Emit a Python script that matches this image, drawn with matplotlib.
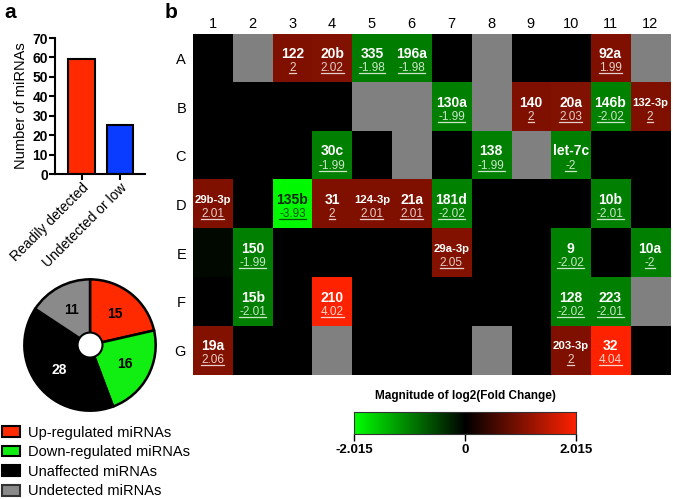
import matplotlib
matplotlib.use('Agg')
import matplotlib.pyplot as plt
import matplotlib.colors as mcolors
from matplotlib.patches import Patch
from matplotlib.lines import Line2D
import numpy as np

plt.rcParams['font.family'] = ['Liberation Sans', 'DejaVu Sans']

# panel a: bar chart
bar_labels = ['Readily detected', 'Undetected or low']
bar_values = [59, 25]
bar_colors = ['#ff2a00', '#0a3cff']

# panel a: pie chart
pie_labels = ['Up-regulated miRNAs', 'Down-regulated miRNAs',
              'Unaffected miRNAs', 'Undetected miRNAs']
pie_counts = [15, 16, 28, 11]
pie_colors = ['#ff2a00', '#11ee11', '#000000', '#8a8a8a']
pie_text_colors = ['black', 'black', 'white', 'black']

# panel b: heatmap (nan = undetected, 0 = unaffected)
nan = np.nan
row_labels = ['A', 'B', 'C', 'D', 'E', 'F', 'G']
col_labels = [str(i) for i in range(1, 13)]
mirna_names = [
    ['', '', '122', '20b', '335', '196a', '', '', '', '', '92a', ''],
    ['', '', '', '', '', '', '130a', '', '140', '20a', '146b', '132-3p'],
    ['', '', '', '30c', '', '', '', '138', '', 'let-7c', '', ''],
    ['29b-3p', '', '135b', '31', '124-3p', '21a', '181d', '', '', '', '10b', ''],
    ['', '150', '', '', '', '', '29a-3p', '', '', '9', '', '10a'],
    ['', '15b', '', '210', '', '', '', '', '', '128', '223', ''],
    ['19a', '', '', '', '', '', '', '', '', '203-3p', '32', ''],
]
fold_change = [
    [0, nan, 2, 2.02, -1.98, -1.98, 0, nan, 0, 0, 1.99, nan],
    [0, 0, 0, 0, nan, nan, -1.99, nan, 2, 2.03, -2.02, 2],
    [0, 0, 0, -1.99, 0, nan, 0, -1.99, nan, -2, 0, 0],
    [2.01, 0, -3.93, 2, 2.01, 2.01, -2.02, 0, 0, 0, -2.01, 0],
    [-0.15, -1.99, 0, 0, 0, 0, 2.05, 0, 0, -2.02, 0, -2],
    [0, -2.01, 0, 4.02, 0, 0, 0, 0, 0, -2.02, -2.01, nan],
    [2.06, 0, 0, nan, 0, 0, 0, nan, 0, 2, 4.04, 0],
]
cbar_limit = 2.015

cmap = mcolors.LinearSegmentedColormap.from_list('gkr', ['#00ff00', '#000000', '#ff2200'])
cmap.set_bad('#808080')

fig = plt.figure(figsize=(6.73, 4.99), dpi=100)

# ---------------- bar chart ----------------
ax_bar = fig.add_axes([0.0817, 0.6513, 0.1337, 0.2725])
xpos = np.arange(len(bar_values))
ax_bar.bar(xpos, bar_values, width=0.7, color=bar_colors, edgecolor='black', linewidth=1.5)
ax_bar.set_xlim(-0.69, 1.65)
ax_bar.set_ylim(0, 70)
ax_bar.set_yticks(range(0, 71, 10))
ax_bar.set_xticks(xpos)
ax_bar.set_xticklabels(bar_labels, rotation=45, ha='right', rotation_mode='anchor', fontsize=10)
for lab in ax_bar.get_yticklabels():
    lab.set_fontweight('bold')
    lab.set_fontsize(10)
ax_bar.set_ylabel('Number of miRNAs', fontsize=10.5, labelpad=3)
ax_bar.spines['top'].set_visible(False)
ax_bar.spines['right'].set_visible(False)
ax_bar.spines['left'].set_linewidth(1.5)
ax_bar.spines['bottom'].set_linewidth(1.5)
ax_bar.tick_params(width=1.5, length=4, pad=1)

# ---------------- pie chart ----------------
ax_pie = fig.add_axes([0.0342, 0.1743, 0.1991, 0.2685])
wedges, texts = ax_pie.pie(pie_counts, colors=pie_colors, startangle=90, counterclock=False,
                           labels=[str(c) for c in pie_counts], labeldistance=0.6,
                           wedgeprops=dict(edgecolor='black', linewidth=1.8))
for t, c in zip(texts, pie_text_colors):
    t.set_color(c)
    t.set_fontweight('bold')
    t.set_fontsize(10)
    t.set_ha('center')
    t.set_va('center')
ax_pie.add_patch(plt.Circle((0, 0), 0.19, facecolor='white', edgecolor='black', linewidth=1.5))
ax_pie.set_xlim(-1.02, 1.02)
ax_pie.set_ylim(-1.02, 1.02)
ax_pie.set_aspect('equal')

handles = [Patch(facecolor=c, edgecolor='black', linewidth=1.5) for c in pie_colors]
handles[3] = Patch(facecolor=pie_colors[3], edgecolor='#333333', linewidth=1.5)
fig.legend(handles, pie_labels, loc='upper left', bbox_to_anchor=(0.003, 0.147),
           frameon=False, fontsize=10.5, handlelength=1.25, handleheight=0.75,
           handletextpad=0.5, labelspacing=0.38, borderaxespad=0, borderpad=0)

# ---------------- heatmap ----------------
ax_hm = fig.add_axes([0.2868, 0.2485, 0.7088, 0.6834])
data = np.array(fold_change, dtype=float)
ax_hm.imshow(np.ma.masked_invalid(data), cmap=cmap, vmin=-2 * cbar_limit, vmax=2 * cbar_limit,
             aspect='auto', interpolation='nearest')
ax_hm.set_xticks(range(len(col_labels)))
ax_hm.set_xticklabels(col_labels, fontsize=10.5)
ax_hm.set_yticks(range(len(row_labels)))
ax_hm.set_yticklabels(row_labels, fontsize=10.5)
ax_hm.xaxis.tick_top()
ax_hm.tick_params(axis='x', length=0, pad=2)
ax_hm.tick_params(axis='y', length=0, pad=5)
for s in ax_hm.spines.values():
    s.set_visible(False)

value_texts = []
for i, row in enumerate(mirna_names):
    for j, name in enumerate(row):
        if not name:
            continue
        v = fold_change[i][j]
        tc = '#0a2a0a' if v < -3 else 'white'
        fs = 8.2 if '-3p' in name else 10
        ax_hm.text(j, i - 0.09, name, ha='center', va='center', color=tc,
                   fontsize=fs, fontweight='bold')
        vt = ax_hm.text(j, i + 0.2, '{:g}'.format(v), ha='center', va='center',
                        color=tc, alpha=0.8, fontsize=8.5)
        value_texts.append(vt)

# ---------------- colour bar ----------------
ax_cb = fig.add_axes([0.526, 0.1303, 0.3299, 0.0441])
grad = np.linspace(-cbar_limit, cbar_limit, 256)[np.newaxis, :]
ax_cb.imshow(grad, cmap=cmap, vmin=-cbar_limit, vmax=cbar_limit, aspect='auto',
             extent=[-cbar_limit, cbar_limit, 0, 1])
ax_cb.set_yticks([])
ax_cb.set_xticks([-cbar_limit, 0, cbar_limit])
ax_cb.set_xticklabels(['-2.015', '0', '2.015'], fontsize=9.5, fontweight='bold')
ax_cb.tick_params(axis='x', length=5, width=1, pad=2)
for s in ax_cb.spines.values():
    s.set_color('#333333')
    s.set_linewidth(0.8)
ax_cb.set_title('Magnitude of log2(Fold Change)', fontsize=8.5, fontweight='bold', pad=9)

# panel letters
fig.text(0.007, 0.975, 'a', fontsize=15, fontweight='bold', va='center')
fig.text(0.245, 0.975, 'b', fontsize=15, fontweight='bold', va='center')

# underline the fold-change numbers
fig.canvas.draw()
renderer = fig.canvas.get_renderer()
W, H = fig.bbox.width, fig.bbox.height
for vt in value_texts:
    bb = vt.get_window_extent(renderer)
    y = (bb.y0 + 1) / H
    fig.add_artist(Line2D([bb.x0 / W, bb.x1 / W], [y, y], color=vt.get_color(),
                          alpha=0.8, linewidth=0.9))

fig.savefig('out.png', dpi=100)
